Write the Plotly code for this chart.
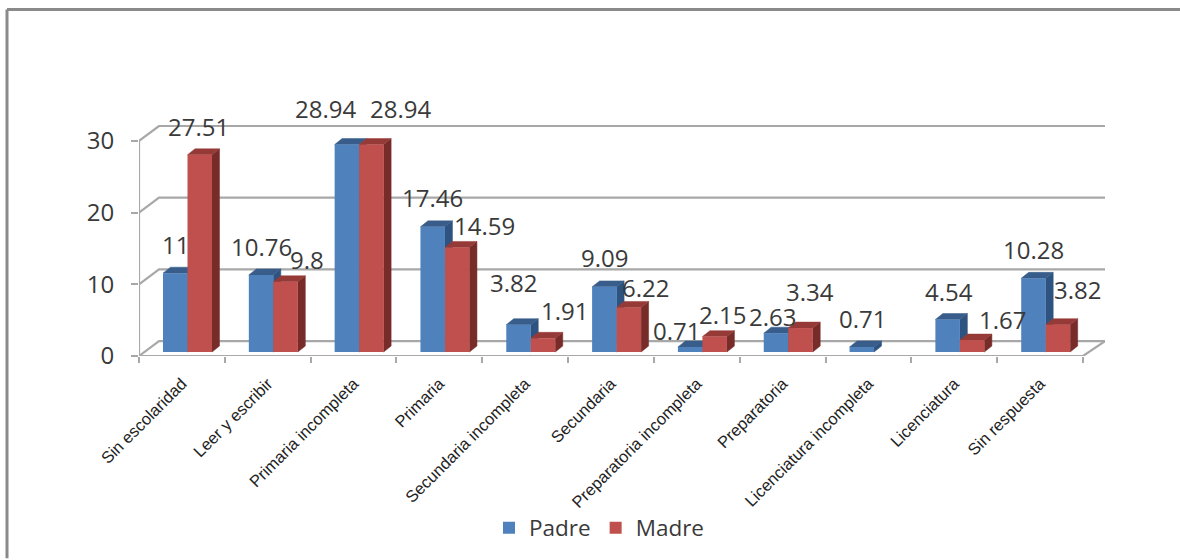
import plotly.graph_objects as go

categorias = ["Sin escolaridad", "Leer y escribir", "Primaria incompleta", "Primaria",
              "Secundaria incompleta", "Secundaria", "Preparatoria incompleta", "Preparatoria",
              "Licenciatura incompleta", "Licenciatura", "Sin respuesta"]
padre = [11, 10.76, 28.94, 17.46, 3.82, 9.09, 0.71, 2.63, 0.71, 4.54, 10.28]
madre = [27.51, 9.8, 28.94, 14.59, 1.91, 6.22, 2.15, 3.34, None, 1.67, 3.82]
y_ticks = [0, 10, 20, 30]

# label nudges in pixels (dx right, dy down)
padre_dx = [0, 0, -21, 0, -5, 0, -14, -3, 1, 1, 0]
padre_dy = [-29, -28, -36, -29, -42, -29, -16, -17, -28, -28, -29]
madre_dx = [-1, 21, 29, 27, 21, 17, 8, 10, 0, 30, 20]
madre_dy = [-28, -22, -36, -22, -28, -20, -22, -37, 0, -21, -35]

# page geometry
W, H = 1180, 560
L, R, T, B = 139, 1105, 125, 357
PX_X = 85.82   # px per category
PX_Y = 7.2     # px per value unit
X_MAX = (R - L) / PX_X
Y_MAX = (B - T) / PX_Y

# 3D look
WALL_DX = 20 / PX_X
WALL_DY = 15 / PX_Y
BAR_W = 24.5 / PX_X
BAR_L = 24 / PX_X
BAR_BASE = 4 / PX_Y
DEPTH_X = 7.5 / PX_X
DEPTH_Y = 6 / PX_Y

BLUE, BLUE_SIDE, BLUE_TOP = "#4F81BD", "#2E5380", "#385D8A"
RED, RED_SIDE, RED_TOP = "#C0504D", "#772C2A", "#963A37"
GRID = "#A8A8A8"
TEXT = "#3A3A3A"

fig = go.Figure()


def line(xs, ys, width=2.2, color=GRID):
    fig.add_trace(go.Scatter(x=xs, y=ys, mode="lines", line=dict(color=color, width=width),
                             showlegend=False, hoverinfo="skip", xaxis="x", yaxis="y"))


# walls and floor
for t in y_ticks:
    line([0, WALL_DX, X_MAX], [t, t + WALL_DY, t + WALL_DY])
line([0, 0], [0, 30])
line([0, 11, X_MAX], [0, 0, WALL_DY])


def poly(xs, ys, color):
    fig.add_trace(go.Scatter(x=xs, y=ys, mode="lines", fill="toself", fillcolor=color,
                             line=dict(color=color, width=0.5), showlegend=False,
                             hoverinfo="skip", xaxis="x", yaxis="y"))


def depth(values, start, side, top):
    for i, v in enumerate(values):
        if v is None:
            continue
        l = i + start
        r = l + BAR_W
        h = BAR_BASE + v
        poly([r, r + DEPTH_X, r + DEPTH_X, r, r],
             [BAR_BASE, BAR_BASE + DEPTH_Y, h + DEPTH_Y, h, BAR_BASE], side)
        poly([l, l + DEPTH_X, r + DEPTH_X, r, l], [h, h + DEPTH_Y, h + DEPTH_Y, h, h], top)


depth(padre, BAR_L, BLUE_SIDE, BLUE_TOP)
depth(madre, BAR_L + BAR_W, RED_SIDE, RED_TOP)

xs = list(range(len(categorias)))
fig.add_trace(go.Bar(x=[i + BAR_L + BAR_W / 2 for i in xs], y=padre, base=BAR_BASE, width=BAR_W,
                     name="Padre", marker=dict(color=BLUE, line=dict(width=0)),
                     xaxis="x2", yaxis="y2"))
fig.add_trace(go.Bar(x=[i + BAR_L + BAR_W * 1.5 for i in xs], y=madre, base=BAR_BASE, width=BAR_W,
                     name="Madre", marker=dict(color=RED, line=dict(width=0)),
                     xaxis="x2", yaxis="y2"))

annotations = []
for values, start, dxs, dys in ((padre, BAR_L, padre_dx, padre_dy),
                                (madre, BAR_L + BAR_W, madre_dx, madre_dy)):
    for i, v in enumerate(values):
        if v is None:
            continue
        annotations.append(dict(x=i + start + BAR_W / 2, y=v + BAR_BASE, xref="x", yref="y",
                                text=str(v), showarrow=False, xanchor="center", yanchor="middle",
                                xshift=dxs[i], yshift=-dys[i],
                                font=dict(family="Open Sans", size=24, color=TEXT)))


def px(x):
    return (x - L) / (R - L)


def py(y):
    return (B - y) / (B - T)


shapes = [
    dict(type="line", xref="paper", yref="paper", x0=px(7), x1=px(1180), y0=py(9), y1=py(9),
         line=dict(color="#8A8A8A", width=3)),
    dict(type="line", xref="paper", yref="paper", x0=px(7), x1=px(7), y0=py(9), y1=py(560),
         line=dict(color="#8A8A8A", width=3)),
]

fig.update_layout(
    width=W, height=H, margin=dict(l=L, r=W - R, t=T, b=H - B),
    paper_bgcolor="white", plot_bgcolor="white", barmode="overlay",
    font=dict(family="Open Sans", color=TEXT),
    xaxis=dict(range=[0, X_MAX], tickvals=[i + 0.5 for i in xs], ticktext=categorias,
               tickangle=-45, ticks="", showgrid=False, zeroline=False, showline=False,
               ticklabelstandoff=14,
               tickfont=dict(family="Liberation Sans", size=16.5, color="#222222"),
               minor=dict(tickvals=list(range(len(categorias) + 1)), ticks="outside",
                          ticklen=6, tickwidth=2, tickcolor=GRID, showgrid=False)),
    yaxis=dict(range=[0, Y_MAX], tickvals=y_ticks, ticks="outside", ticklen=7, tickwidth=2,
               tickcolor=GRID, showgrid=False, zeroline=False, showline=False,
               ticklabelstandoff=12,
               tickfont=dict(family="Open Sans", size=24, color=TEXT)),
    xaxis2=dict(range=[0, X_MAX], overlaying="x", visible=False),
    yaxis2=dict(range=[0, Y_MAX], overlaying="y", visible=False),
    legend=dict(orientation="h", x=px(489), y=py(528), xanchor="left", yanchor="middle",
                font=dict(family="Open Sans", size=22.5, color=TEXT), bgcolor="rgba(0,0,0,0)"),
    annotations=annotations, shapes=shapes,
)

fig.write_html("out.html", config={"displayModeBar": False},
               post_script="document.body.style.margin='0';")
